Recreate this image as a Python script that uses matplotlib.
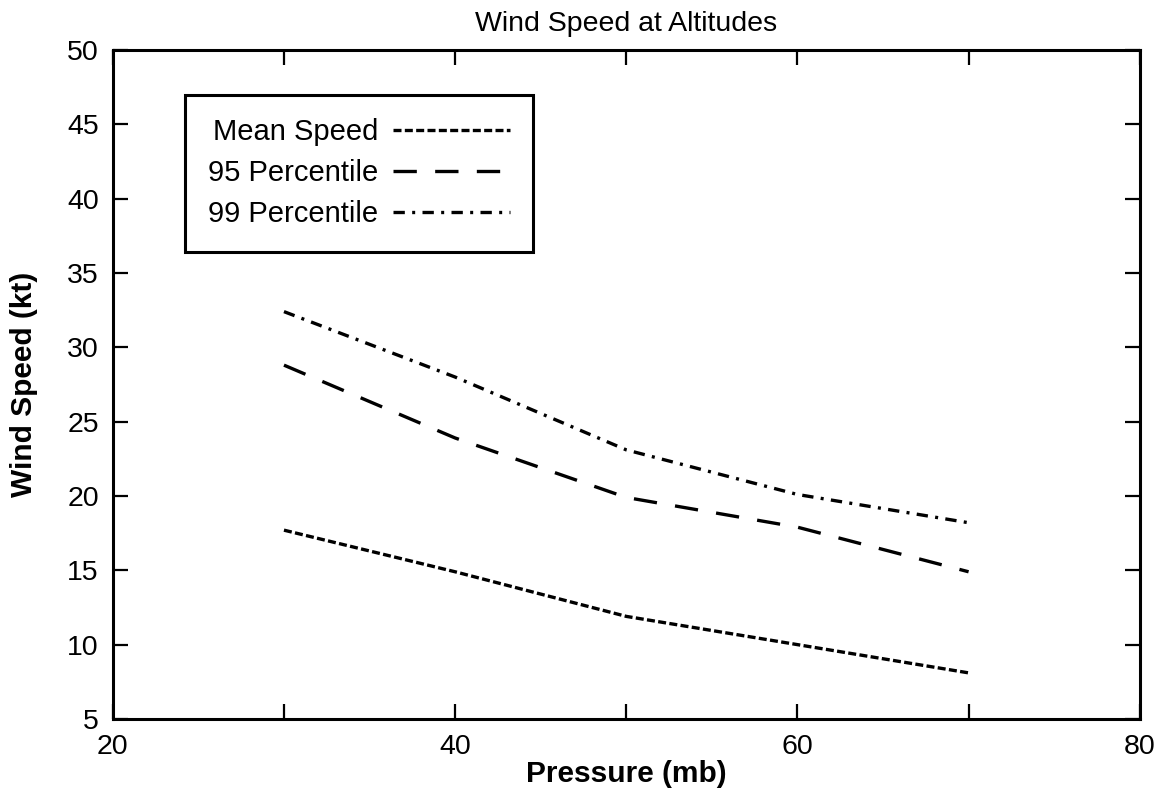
import matplotlib
matplotlib.use("Agg")
from matplotlib import pyplot as plt
from matplotlib.ticker import MultipleLocator

plt.rcParams['font.family'] = ['Liberation Sans', 'DejaVu Sans']

# pressure levels (mb) and wind speeds (kt)
pressure = [30, 40, 50, 60, 70]
mean_speed = [17.7, 14.9, 11.9, 10.0, 8.1]
pct95 = [28.8, 23.9, 19.9, 17.9, 14.9]
pct99 = [32.4, 28.0, 23.1, 20.1, 18.2]

fig = plt.figure(figsize=(11.63, 8.06), dpi=100)
ax = fig.add_axes([0.097, 0.108, 0.883, 0.830])

lw = 2.4
ax.plot(pressure, mean_speed, color='black', lw=lw, dashes=(2.4, 1.0), label='Mean Speed')
ax.plot(pressure, pct95, color='black', lw=lw, dashes=(7, 5.5), label='95 Percentile')
ax.plot(pressure, pct99, color='black', lw=lw, dashes=(3.4, 2.2, 0.9, 2.2), label='99 Percentile')

ax.set_xlim(20, 80)
ax.set_ylim(5, 50)
ax.xaxis.set_major_locator(MultipleLocator(20))
ax.xaxis.set_minor_locator(MultipleLocator(10))
ax.yaxis.set_major_locator(MultipleLocator(5))
ax.tick_params(which='both', direction='in', top=True, right=True,
               length=11, width=1.6, labelsize=20.5)
ax.tick_params(axis='y', pad=10)
ax.tick_params(axis='x', pad=11)
for s in ax.spines.values():
    s.set_linewidth(2.2)

ax.set_xlabel('Pressure (mb)', fontsize=21.5, fontweight='bold', labelpad=0)
ax.set_ylabel('Wind Speed (kt)', fontsize=21.5, fontweight='bold', labelpad=21)
ax.set_title('Wind Speed at Altitudes', fontsize=20.5, pad=14)

leg = ax.legend(loc='upper left', bbox_to_anchor=(0.070, 0.933), markerfirst=False,
                fontsize=21, frameon=True, fancybox=False, framealpha=1,
                handlelength=4.0, handletextpad=0.5, labelspacing=0.45,
                borderpad=0.8, borderaxespad=0)
leg.get_frame().set_edgecolor('black')
leg.get_frame().set_linewidth(2.2)

fig.savefig('out.png', dpi=100)
